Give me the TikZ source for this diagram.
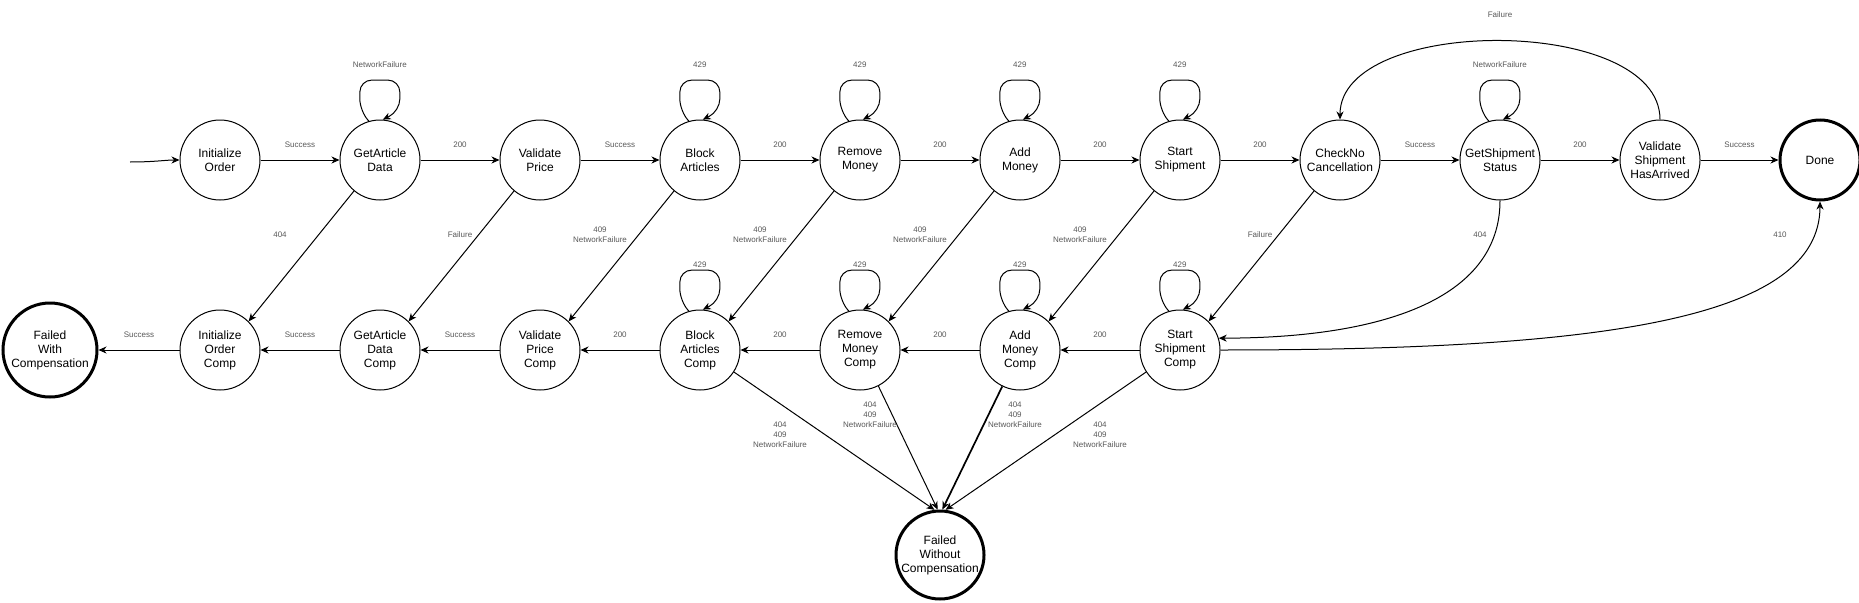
\documentclass[tikz,border=0pt]{standalone}
\usepackage{fontspec}
\setmainfont{Liberation Sans}
\usetikzlibrary{arrows.meta}
\definecolor{lblgray}{HTML}{595959}
\newcommand{\sloop}[3]{\draw[arr, rounded corners=12pt] (#1.106) -- ++(-9,-10) -- ++(0,-31) -- node[lbl, midway, yshift=#3] {#2} ++(40,0) -- ++(0,31) -- (#1.86);}
\begin{document}
\begin{tikzpicture}[x=1pt, y=-1pt,
  state/.style={circle, draw, line width=1pt, minimum size=80pt, inner sep=0pt, align=center, font=\fontsize{12}{14}\selectfont},
  final/.style={state, line width=3pt},
  lbl/.style={font=\fontsize{8}{10}\selectfont, text=lblgray, align=center, inner sep=1pt},
  arr/.style={-{Stealth[length=8pt,width=7pt,inset=2.5pt]}, line width=1pt},
  toplbl/.style={lbl, midway, yshift=15pt}
]
\fill[white] (0,0) rectangle (1859,602);
\useasboundingbox (0,0) rectangle (1859,602);

% top row
\node[state] (IO) at (220,160) {Initialize\\Order};
\node[state] (GAD) at (380,160) {GetArticle\\Data};
\node[state] (VP) at (540,160) {Validate\\Price};
\node[state] (BA) at (700,160) {Block\\Articles};
\node[state] (RM) at (860,160) {Remove\\Money};
\node[state] (AM) at (1020,160) {Add\\Money};
\node[state] (SS) at (1180,160) {Start\\Shipment};
\node[state] (CNC) at (1340,160) {CheckNo\\Cancellation};
\node[state] (GSS) at (1500,160) {GetShipment\\Status};
\node[state] (VSHA) at (1660,160) {Validate\\Shipment\\HasArrived};
\node[final] (DONE) at (1820,160) {Done};

% bottom row
\node[final, minimum size=94pt] (FWC) at (50,350) {Failed\\With\\Compensation};
\node[state] (IOC) at (220,350) {Initialize\\Order\\Comp};
\node[state] (GADC) at (380,350) {GetArticle\\Data\\Comp};
\node[state] (VPC) at (540,350) {Validate\\Price\\Comp};
\node[state] (BAC) at (700,350) {Block\\Articles\\Comp};
\node[state] (RMC) at (860,350) {Remove\\Money\\Comp};
\node[state] (AMC) at (1020,350) {Add\\Money\\Comp};
\node[state] (SSC) at (1180,350) {Start\\Shipment\\Comp};
\node[final, minimum size=88pt] (FWOC) at (940,555) {Failed\\Without\\Compensation};

% initial arrow
\coordinate (init) at (130,162);
\draw[arr] (init) .. controls (155,162) and (165,160) .. (IO.west);

% top row edges
\draw[arr] (IO) -- node[toplbl] {Success} (GAD);
\draw[arr] (GAD) -- node[toplbl] {200} (VP);
\draw[arr] (VP) -- node[toplbl] {Success} (BA);
\draw[arr] (BA) -- node[toplbl] {200} (RM);
\draw[arr] (RM) -- node[toplbl] {200} (AM);
\draw[arr] (AM) -- node[toplbl] {200} (SS);
\draw[arr] (SS) -- node[toplbl] {200} (CNC);
\draw[arr] (CNC) -- node[toplbl] {Success} (GSS);
\draw[arr] (GSS) -- node[toplbl] {200} (VSHA);
\draw[arr] (VSHA) -- node[toplbl] {Success} (DONE);

% bottom row edges
\draw[arr] (SSC) -- node[toplbl] {200} (AMC);
\draw[arr] (AMC) -- node[toplbl] {200} (RMC);
\draw[arr] (RMC) -- node[toplbl] {200} (BAC);
\draw[arr] (BAC) -- node[toplbl] {200} (VPC);
\draw[arr] (VPC) -- node[toplbl] {Success} (GADC);
\draw[arr] (GADC) -- node[toplbl] {Success} (IOC);
\draw[arr] (IOC) -- node[toplbl] {Success} (FWC);

% self loops
\sloop{GAD}{NetworkFailure}{15.5pt}
\sloop{BA}{429}{15.5pt}
\sloop{RM}{429}{15.5pt}
\sloop{AM}{429}{15.5pt}
\sloop{SS}{429}{15.5pt}
\sloop{GSS}{NetworkFailure}{15.5pt}
\sloop{BAC}{429}{5.5pt}
\sloop{RMC}{429}{5.5pt}
\sloop{AMC}{429}{5.5pt}
\sloop{SSC}{429}{5.5pt}

% diagonal compensation edges
\draw[arr] (GAD.230) -- (IOC.45);
\node[lbl] (l1) at (280,235) {404};
\draw[arr] (VP.230) -- (GADC.45);
\node[lbl] (l2) at (460,235) {Failure};
\draw[arr] (BA.230) -- (VPC.45);
\node[lbl] (l3) at (600,235) {409\\NetworkFailure};
\draw[arr] (RM.230) -- (BAC.45);
\node[lbl] (l4) at (760,235) {409\\NetworkFailure};
\draw[arr] (AM.230) -- (RMC.45);
\node[lbl] (l5) at (920,235) {409\\NetworkFailure};
\draw[arr] (SS.230) -- (AMC.45);
\node[lbl] (l6) at (1080,235) {409\\NetworkFailure};
\draw[arr] (CNC.230) -- (SSC.45);
\node[lbl] (l7) at (1260,235) {Failure};

% to failed without compensation
\draw[arr] (BAC.-33) -- (FWOC.97);
\node[lbl] (l8) at (780,435) {404\\409\\NetworkFailure};
\draw[arr] (RMC.-63) -- (FWOC.93);
\node[lbl] (l9) at (870,415) {404\\409\\NetworkFailure};
\draw[arr, line width=1.7pt] (AMC.-116) -- (FWOC.87);
\node[lbl] (l10) at (1015,415) {404\\409\\NetworkFailure};
\draw[arr] (SSC.-147) -- (FWOC.83);
\node[lbl] (l11) at (1100,435) {404\\409\\NetworkFailure};

% curved edges
\draw[arr] (VSHA.north) .. controls (1660,15) and (1340,15) .. node[lbl, pos=0.5, yshift=26pt] {Failure} (CNC.north);
\draw[arr] (GSS.south) .. controls (1500,300) and (1380,338) .. (SSC.17);
\node[lbl] (l12) at (1480,235) {404};
\draw[arr] (SSC.east) .. controls (1600,350) and (1820,320) .. (DONE.south);
\node[lbl] (l13) at (1780,235) {410};
\end{tikzpicture}
\end{document}
